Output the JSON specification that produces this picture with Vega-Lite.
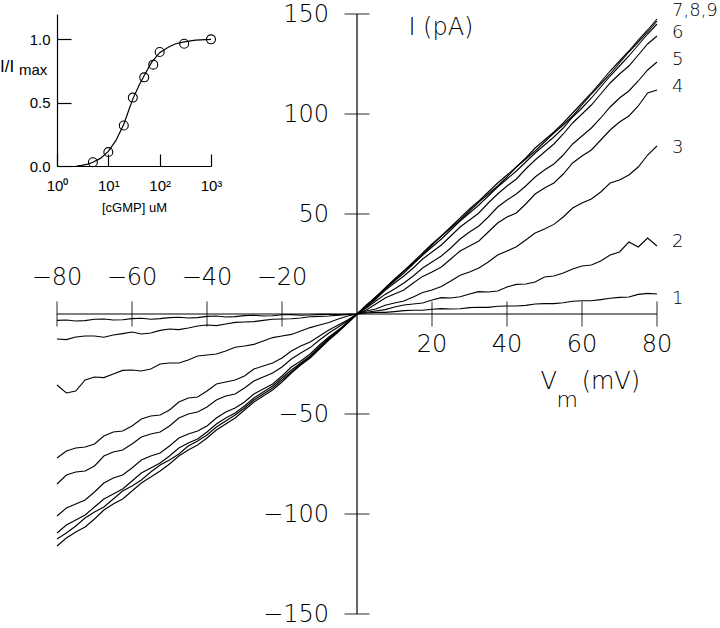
{
  "$schema": "https://vega.github.io/schema/vega-lite/v6.json",
  "width": 600,
  "height": 600,
  "autosize": "none",
  "padding": {"left": 57, "top": 14, "right": 63, "bottom": 14},
  "background": "white",
  "config": {"view": {"stroke": null}, "axis": {"grid": false}},
  "datasets": {
    "curves": [
      {"V": -80, "c1": -3.2, "c2": -12.5, "c3": -35.5, "c4": -72, "c5": -85, "c6": -101, "c7": -109.5, "c8": -112.5, "c9": -116},
      {"V": -77.5, "c1": -3.0, "c2": -12.8, "c3": -39.5, "c4": -68.5, "c5": -80.5, "c6": -97, "c7": -105.5, "c8": -109.5, "c9": -112},
      {"V": -75, "c1": -3.5, "c2": -11.5, "c3": -38.5, "c4": -67, "c5": -79, "c6": -95, "c7": -103, "c8": -106, "c9": -109},
      {"V": -72.5, "c1": -3.3, "c2": -11.0, "c3": -33.0, "c4": -66.5, "c5": -78.5, "c6": -93, "c7": -100.5, "c8": -102, "c9": -106.5},
      {"V": -70, "c1": -2.6, "c2": -11, "c3": -31.5, "c4": -65, "c5": -76, "c6": -89, "c7": -96.5, "c8": -99, "c9": -102.5},
      {"V": -67.5, "c1": -2.5, "c2": -11.6, "c3": -31.8, "c4": -61, "c5": -71, "c6": -84.5, "c7": -92.5, "c8": -96.5, "c9": -98},
      {"V": -65, "c1": -3, "c2": -10.5, "c3": -30, "c4": -59, "c5": -69, "c6": -82, "c7": -90, "c8": -92.5, "c9": -95},
      {"V": -62.5, "c1": -2.9, "c2": -9.8, "c3": -28.2, "c4": -58.5, "c5": -68, "c6": -80.5, "c7": -87.5, "c8": -88.5, "c9": -92.5},
      {"V": -60, "c1": -2.3, "c2": -9, "c3": -28, "c4": -56, "c5": -65, "c6": -77, "c7": -83.5, "c8": -86, "c9": -88.5},
      {"V": -57.5, "c1": -2.1, "c2": -10.0, "c3": -28.5, "c4": -52.5, "c5": -61.5, "c6": -73, "c7": -79.5, "c8": -83, "c9": -84.5},
      {"V": -55, "c1": -2.6, "c2": -9.5, "c3": -27.5, "c4": -51, "c5": -60, "c6": -71, "c7": -77, "c8": -79, "c9": -81.5},
      {"V": -52.5, "c1": -2.3, "c2": -8.2, "c3": -25.0, "c4": -50.5, "c5": -59, "c6": -69.5, "c7": -74.5, "c8": -75.5, "c9": -78.5},
      {"V": -50, "c1": -1.8, "c2": -7.5, "c3": -24.5, "c4": -48, "c5": -56, "c6": -66, "c7": -71, "c8": -73, "c9": -75},
      {"V": -47.5, "c1": -1.6, "c2": -7.8, "c3": -24.5, "c4": -44, "c5": -52, "c6": -62, "c7": -67, "c8": -70, "c9": -71},
      {"V": -45, "c1": -2, "c2": -7, "c3": -23, "c4": -42, "c5": -50, "c6": -60, "c7": -64.5, "c8": -66, "c9": -68},
      {"V": -42.5, "c1": -1.8, "c2": -6.0, "c3": -21.0, "c4": -41.5, "c5": -49, "c6": -58.5, "c7": -62.5, "c8": -63.5, "c9": -65.5},
      {"V": -40, "c1": -1.2, "c2": -5.5, "c3": -20.5, "c4": -38.5, "c5": -46.5, "c6": -56, "c7": -59, "c8": -60.5, "c9": -62},
      {"V": -37.5, "c1": -1.0, "c2": -5.8, "c3": -20.0, "c4": -35, "c5": -43, "c6": -52, "c7": -55, "c8": -56.5, "c9": -58},
      {"V": -35, "c1": -1.5, "c2": -5, "c3": -18.5, "c4": -34, "c5": -41, "c6": -49, "c7": -52, "c8": -53.5, "c9": -55},
      {"V": -32.5, "c1": -1.3, "c2": -4.2, "c3": -16.6, "c4": -33, "c5": -40, "c6": -47, "c7": -49.5, "c8": -50.5, "c9": -52},
      {"V": -30, "c1": -0.8, "c2": -4, "c3": -16, "c4": -31, "c5": -37, "c6": -44, "c7": -46, "c8": -47, "c9": -48},
      {"V": -27.5, "c1": -0.6, "c2": -3.8, "c3": -15.2, "c4": -27.5, "c5": -33.5, "c6": -40, "c7": -42, "c8": -43, "c9": -44},
      {"V": -25, "c1": -1, "c2": -3.2, "c3": -13.5, "c4": -26, "c5": -31.5, "c6": -37.5, "c7": -39, "c8": -40, "c9": -41},
      {"V": -22.5, "c1": -0.9, "c2": -2.6, "c3": -11.8, "c4": -24.5, "c5": -29.5, "c6": -35, "c7": -36, "c8": -37, "c9": -38},
      {"V": -20, "c1": -0.4, "c2": -2.5, "c3": -11, "c4": -22, "c5": -26.5, "c6": -31, "c7": -32, "c8": -33, "c9": -34},
      {"V": -17.5, "c1": -0.3, "c2": -2.4, "c3": -10.2, "c4": -18.5, "c5": -22.5, "c6": -26.5, "c7": -28, "c8": -29, "c9": -29.5},
      {"V": -15, "c1": -0.6, "c2": -2, "c3": -8.5, "c4": -16, "c5": -19.5, "c6": -23.5, "c7": -24.5, "c8": -25, "c9": -25.5},
      {"V": -12.5, "c1": -0.5, "c2": -1.4, "c3": -6.8, "c4": -14, "c5": -16.8, "c6": -20, "c7": -21, "c8": -21.5, "c9": -22},
      {"V": -10, "c1": -0.2, "c2": -1.2, "c3": -5.5, "c4": -11, "c5": -13, "c6": -15.5, "c7": -16.5, "c8": -17, "c9": -17.5},
      {"V": -7.5, "c1": -0.1, "c2": -1.0, "c3": -4.3, "c4": -8, "c5": -9.5, "c6": -11.5, "c7": -12, "c8": -12.5, "c9": -13},
      {"V": -5, "c1": -0.3, "c2": -0.6, "c3": -2.5, "c4": -5.5, "c5": -6.5, "c6": -8, "c7": -8.5, "c8": -8.5, "c9": -9},
      {"V": -2.5, "c1": -0.2, "c2": -0.2, "c3": -1.0, "c4": -3, "c5": -3.5, "c6": -4.5, "c7": -4.5, "c8": -4, "c9": -4.5},
      {"V": 0, "c1": 0, "c2": 0, "c3": 0, "c4": 0, "c5": 0, "c6": 0, "c7": 0, "c8": 0, "c9": 0},
      {"V": 2.5, "c1": 0.5, "c2": 0.9, "c3": 1.5, "c4": 2, "c5": 3, "c6": 3.5, "c7": 4, "c8": 4.5, "c9": 4},
      {"V": 5, "c1": 0.8, "c2": 1.5, "c3": 2.5, "c4": 5, "c5": 6.5, "c6": 7.5, "c7": 8, "c8": 8.5, "c9": 8.5},
      {"V": 7.5, "c1": 0.8, "c2": 2.2, "c3": 4.4, "c4": 8, "c5": 9.8, "c6": 11.8, "c7": 12.5, "c8": 12.5, "c9": 13},
      {"V": 10, "c1": 1.2, "c2": 3.5, "c3": 5.5, "c4": 10, "c5": 12.5, "c6": 15.5, "c7": 16.5, "c8": 17, "c9": 17.5},
      {"V": 12.5, "c1": 1.7, "c2": 4.5, "c3": 6.5, "c4": 12, "c5": 15.5, "c6": 19, "c7": 20.5, "c8": 21.5, "c9": 21.5},
      {"V": 15, "c1": 1.9, "c2": 5, "c3": 8.5, "c4": 15.5, "c5": 19, "c6": 23, "c7": 25, "c8": 25.5, "c9": 26},
      {"V": 17.5, "c1": 1.9, "c2": 5.5, "c3": 10.8, "c4": 18.8, "c5": 23, "c6": 27.5, "c7": 29.5, "c8": 29.5, "c9": 30.5},
      {"V": 20, "c1": 2.4, "c2": 7, "c3": 12, "c4": 21, "c5": 26, "c6": 31, "c7": 33.5, "c8": 34.5, "c9": 35},
      {"V": 22.5, "c1": 2.7, "c2": 8.2, "c3": 13.8, "c4": 23.5, "c5": 29, "c6": 34.5, "c7": 37.5, "c8": 39, "c9": 39},
      {"V": 25, "c1": 2.5, "c2": 8, "c3": 16.5, "c4": 27.5, "c5": 33, "c6": 39, "c7": 42, "c8": 43, "c9": 43.5},
      {"V": 27.5, "c1": 2.6, "c2": 8.6, "c3": 19.4, "c4": 31.5, "c5": 37.5, "c6": 43.5, "c7": 46.5, "c8": 47, "c9": 48},
      {"V": 30, "c1": 3.2, "c2": 10, "c3": 21, "c4": 34, "c5": 41, "c6": 47, "c7": 50.5, "c8": 51.5, "c9": 52.5},
      {"V": 32.5, "c1": 3.4, "c2": 11.2, "c3": 23, "c4": 36.5, "c5": 44, "c6": 50.5, "c7": 54.5, "c8": 56, "c9": 56.5},
      {"V": 35, "c1": 3.3, "c2": 11, "c3": 26, "c4": 41, "c5": 48.5, "c6": 55.5, "c7": 59, "c8": 60, "c9": 61},
      {"V": 37.5, "c1": 3.9, "c2": 11.5, "c3": 29.5, "c4": 45.5, "c5": 53.5, "c6": 60, "c7": 63.5, "c8": 64, "c9": 65.5},
      {"V": 40, "c1": 4, "c2": 13.5, "c3": 31.5, "c4": 48.5, "c5": 57, "c6": 64, "c7": 67.5, "c8": 68.5, "c9": 69.5},
      {"V": 42.5, "c1": 4.0, "c2": 14.8, "c3": 33.6, "c4": 50.5, "c5": 60, "c6": 67.5, "c7": 71.5, "c8": 73.5, "c9": 73.5},
      {"V": 45, "c1": 4.3, "c2": 15, "c3": 37, "c4": 55, "c5": 64, "c6": 72.5, "c7": 76, "c8": 77.5, "c9": 78},
      {"V": 47.5, "c1": 5.0, "c2": 16, "c3": 40.5, "c4": 60, "c5": 68.5, "c6": 77, "c7": 80.5, "c8": 81.5, "c9": 83},
      {"V": 50, "c1": 5.2, "c2": 18.5, "c3": 42.5, "c4": 63, "c5": 72, "c6": 81, "c7": 84.5, "c8": 86, "c9": 87},
      {"V": 52.5, "c1": 5.2, "c2": 19, "c3": 44.8, "c4": 65.5, "c5": 75, "c6": 85, "c7": 88.5, "c8": 90.5, "c9": 91},
      {"V": 55, "c1": 5.6, "c2": 20.5, "c3": 48.5, "c4": 70, "c5": 79.5, "c6": 90, "c7": 93, "c8": 94.5, "c9": 95.5},
      {"V": 57.5, "c1": 6.4, "c2": 22.5, "c3": 53, "c4": 75.5, "c5": 85, "c6": 95.5, "c7": 98.5, "c8": 99, "c9": 100.5},
      {"V": 60, "c1": 6.6, "c2": 24, "c3": 55.5, "c4": 79, "c5": 89, "c6": 100, "c7": 103, "c8": 104.5, "c9": 105.5},
      {"V": 62.5, "c1": 6.6, "c2": 24.5, "c3": 57.5, "c4": 82, "c5": 93, "c6": 104.5, "c7": 108, "c8": 110, "c9": 110.5},
      {"V": 65, "c1": 7.2, "c2": 26.5, "c3": 61, "c4": 87, "c5": 98, "c6": 110, "c7": 113.5, "c8": 115, "c9": 116},
      {"V": 67.5, "c1": 7.9, "c2": 29.5, "c3": 65.5, "c4": 92, "c5": 103.5, "c6": 115.5, "c7": 119, "c8": 120, "c9": 121.5},
      {"V": 70, "c1": 8.3, "c2": 31, "c3": 67, "c4": 96, "c5": 108, "c6": 120, "c7": 124, "c8": 125.5, "c9": 126.5},
      {"V": 72.5, "c1": 8.5, "c2": 36, "c3": 69.5, "c4": 99, "c5": 111.5, "c6": 124, "c7": 129, "c8": 131, "c9": 131.5},
      {"V": 75, "c1": 9.8, "c2": 33.5, "c3": 73.5, "c4": 104, "c5": 116.5, "c6": 129.5, "c7": 134.5, "c8": 136, "c9": 137},
      {"V": 77.5, "c1": 10.3, "c2": 38, "c3": 79.5, "c4": 110.5, "c5": 122, "c6": 135, "c7": 140, "c8": 141, "c9": 142},
      {"V": 80, "c1": 10, "c2": 34, "c3": 84, "c4": 112, "c5": 126, "c6": 139, "c7": 145, "c8": 146.5, "c9": 147.5}
    ],
    "curveLabels": [
      {"label": "1", "V": 80, "I": 7.5},
      {"label": "2", "V": 80, "I": 36},
      {"label": "3", "V": 80, "I": 83},
      {"label": "4", "V": 80, "I": 113.5},
      {"label": "5", "V": 80, "I": 127},
      {"label": "6", "V": 80, "I": 140.5},
      {"label": "7,8,9", "V": 80, "I": 151.5}
    ],
    "xneg": [
      {"t": -80, "s": "−80"}, {"t": -60, "s": "−60"}, {"t": -40, "s": "−40"}, {"t": -20, "s": "−20"}
    ],
    "xpos": [
      {"t": 20, "s": "20"}, {"t": 40, "s": "40"}, {"t": 60, "s": "60"}, {"t": 80, "s": "80"}
    ],
    "yticks": [
      {"t": 150, "s": "150"}, {"t": 100, "s": "100"}, {"t": 50, "s": "50"},
      {"t": -50, "s": "−50"}, {"t": -100, "s": "−100"}, {"t": -150, "s": "−150"}
    ],
    "insetCurve": [
      {"c": 2.4, "r": 0}, {"c": 3, "r": 0.005}, {"c": 4, "r": 0.015}, {"c": 5, "r": 0.03},
      {"c": 7, "r": 0.06}, {"c": 10, "r": 0.115}, {"c": 14, "r": 0.2}, {"c": 20, "r": 0.33},
      {"c": 25, "r": 0.44}, {"c": 30, "r": 0.53}, {"c": 40, "r": 0.64}, {"c": 50, "r": 0.715},
      {"c": 70, "r": 0.82}, {"c": 100, "r": 0.895}, {"c": 150, "r": 0.94}, {"c": 200, "r": 0.963},
      {"c": 300, "r": 0.98}, {"c": 500, "r": 0.993}, {"c": 1000, "r": 1.0}
    ],
    "insetPts": [
      {"c": 5, "r": 0.03}, {"c": 10, "r": 0.11}, {"c": 20, "r": 0.32}, {"c": 30, "r": 0.54},
      {"c": 50, "r": 0.7}, {"c": 75, "r": 0.8}, {"c": 100, "r": 0.9}, {"c": 300, "r": 0.965},
      {"c": 1000, "r": 1.0}
    ]
  },
  "layer": [
    {
      "layer": [
        {
          "data": {"values": [{}]},
          "mark": {"type": "rule", "color": "black", "strokeWidth": 1.2},
          "encoding": {
            "x": {"datum": -80, "type": "quantitative", "scale": {"domain": [-80, 80], "nice": false, "zero": false}, "axis": null},
            "x2": {"datum": 80},
            "y": {"datum": 0, "type": "quantitative", "scale": {"domain": [-150, 150], "nice": false, "zero": false}, "axis": null}
          }
        },
        {
          "data": {"values": [{}]},
          "mark": {"type": "rule", "color": "black", "strokeWidth": 1.2},
          "encoding": {
            "x": {"datum": 0, "type": "quantitative", "scale": {"domain": [-80, 80], "nice": false, "zero": false}, "axis": null},
            "y": {"datum": -150, "type": "quantitative", "scale": {"domain": [-150, 150], "nice": false, "zero": false}, "axis": null},
            "y2": {"datum": 150}
          }
        },
        {
          "data": {"name": "xneg"},
          "mark": {"type": "tick", "orient": "vertical", "size": 25, "thickness": 1.2, "color": "black"},
          "encoding": {
            "x": {"field": "t", "type": "quantitative", "scale": {"domain": [-80, 80], "nice": false, "zero": false}, "axis": null},
            "y": {"datum": 0, "type": "quantitative", "scale": {"domain": [-150, 150], "nice": false, "zero": false}, "axis": null}
          }
        },
        {
          "data": {"name": "xpos"},
          "mark": {"type": "tick", "orient": "vertical", "size": 25, "thickness": 1.2, "color": "black"},
          "encoding": {
            "x": {"field": "t", "type": "quantitative", "scale": {"domain": [-80, 80], "nice": false, "zero": false}, "axis": null},
            "y": {"datum": 0, "type": "quantitative", "scale": {"domain": [-150, 150], "nice": false, "zero": false}, "axis": null}
          }
        },
        {
          "data": {"name": "yticks"},
          "mark": {"type": "tick", "orient": "horizontal", "size": 25, "thickness": 1.2, "color": "black"},
          "encoding": {
            "x": {"datum": 0, "type": "quantitative", "scale": {"domain": [-80, 80], "nice": false, "zero": false}, "axis": null},
            "y": {"field": "t", "type": "quantitative", "scale": {"domain": [-150, 150], "nice": false, "zero": false}, "axis": null}
          }
        },
        {
          "data": {"name": "xneg"},
          "mark": {"type": "text", "font": "DejaVu Sans", "fontSize": 24, "fontWeight": 200, "align": "center", "baseline": "middle", "dy": -36, "color": "black"},
          "encoding": {
            "x": {"field": "t", "type": "quantitative", "scale": {"domain": [-80, 80], "nice": false, "zero": false}, "axis": null},
            "y": {"datum": 0, "type": "quantitative", "scale": {"domain": [-150, 150], "nice": false, "zero": false}, "axis": null},
            "text": {"field": "s"}
          }
        },
        {
          "data": {"name": "xpos"},
          "mark": {"type": "text", "font": "DejaVu Sans", "fontSize": 24, "fontWeight": 200, "align": "center", "baseline": "middle", "dy": 31, "color": "black"},
          "encoding": {
            "x": {"field": "t", "type": "quantitative", "scale": {"domain": [-80, 80], "nice": false, "zero": false}, "axis": null},
            "y": {"datum": 0, "type": "quantitative", "scale": {"domain": [-150, 150], "nice": false, "zero": false}, "axis": null},
            "text": {"field": "s"}
          }
        },
        {
          "data": {"name": "yticks"},
          "mark": {"type": "text", "font": "DejaVu Sans", "fontSize": 24, "fontWeight": 200, "align": "right", "baseline": "middle", "dx": -28, "dy": 1, "color": "black"},
          "encoding": {
            "x": {"datum": 0, "type": "quantitative", "scale": {"domain": [-80, 80], "nice": false, "zero": false}, "axis": null},
            "y": {"field": "t", "type": "quantitative", "scale": {"domain": [-150, 150], "nice": false, "zero": false}, "axis": null},
            "text": {"field": "s"}
          }
        },
        {
          "data": {"name": "curves"},
          "transform": [{"fold": ["c1", "c2", "c3", "c4", "c5", "c6", "c7", "c8", "c9"], "as": ["curve", "I"]}],
          "mark": {"type": "line", "color": "black", "strokeWidth": 1.1},
          "encoding": {
            "x": {"field": "V", "type": "quantitative", "scale": {"domain": [-80, 80], "nice": false, "zero": false}, "axis": null},
            "y": {"field": "I", "type": "quantitative", "scale": {"domain": [-150, 150], "nice": false, "zero": false}, "axis": null},
            "detail": {"field": "curve", "type": "nominal"},
            "order": {"field": "V", "type": "quantitative"}
          }
        },
        {
          "data": {"name": "curveLabels"},
          "mark": {"type": "text", "font": "DejaVu Sans", "fontSize": 18, "fontWeight": 200, "align": "left", "baseline": "middle", "dx": 15, "color": "black"},
          "encoding": {
            "x": {"field": "V", "type": "quantitative", "scale": {"domain": [-80, 80], "nice": false, "zero": false}, "axis": null},
            "y": {"field": "I", "type": "quantitative", "scale": {"domain": [-150, 150], "nice": false, "zero": false}, "axis": null},
            "text": {"field": "label"}
          }
        },
        {
          "data": {"values": [{}]},
          "mark": {"type": "text", "text": "I (pA)", "font": "DejaVu Sans", "fontSize": 24, "fontWeight": 200, "align": "left", "baseline": "middle", "color": "black"},
          "encoding": {
            "x": {"datum": 13.7, "type": "quantitative", "scale": {"domain": [-80, 80], "nice": false, "zero": false}, "axis": null},
            "y": {"datum": 143, "type": "quantitative", "scale": {"domain": [-150, 150], "nice": false, "zero": false}, "axis": null}
          }
        },
        {
          "data": {"values": [{}]},
          "mark": {"type": "text", "text": "V", "font": "DejaVu Sans", "fontSize": 24, "fontWeight": 200, "align": "left", "baseline": "middle", "color": "black"},
          "encoding": {
            "x": {"datum": 48.9, "type": "quantitative", "scale": {"domain": [-80, 80], "nice": false, "zero": false}, "axis": null},
            "y": {"datum": -34, "type": "quantitative", "scale": {"domain": [-150, 150], "nice": false, "zero": false}, "axis": null}
          }
        },
        {
          "data": {"values": [{}]},
          "mark": {"type": "text", "text": "m", "font": "DejaVu Sans", "fontSize": 22, "fontWeight": 200, "align": "left", "baseline": "middle", "color": "black"},
          "encoding": {
            "x": {"datum": 53.2, "type": "quantitative", "scale": {"domain": [-80, 80], "nice": false, "zero": false}, "axis": null},
            "y": {"datum": -43, "type": "quantitative", "scale": {"domain": [-150, 150], "nice": false, "zero": false}, "axis": null}
          }
        },
        {
          "data": {"values": [{}]},
          "mark": {"type": "text", "text": "(mV)", "font": "DejaVu Sans", "fontSize": 24, "fontWeight": 200, "align": "left", "baseline": "middle", "color": "black"},
          "encoding": {
            "x": {"datum": 59.9, "type": "quantitative", "scale": {"domain": [-80, 80], "nice": false, "zero": false}, "axis": null},
            "y": {"datum": -34, "type": "quantitative", "scale": {"domain": [-150, 150], "nice": false, "zero": false}, "axis": null}
          }
        }
      ]
    },
    {
      "layer": [
        {
          "data": {"name": "insetCurve"},
          "mark": {"type": "line", "color": "black", "strokeWidth": 1.2},
          "encoding": {
            "x": {
              "field": "c", "type": "quantitative",
              "scale": {"type": "log", "domain": [1, 1000], "range": [0, 154], "nice": false},
              "axis": {
                "orient": "bottom", "offset": -448, "values": [1, 10, 100, 1000],
                "labelExpr": "datum.value == 1 ? '10⁰' : datum.value == 10 ? '10¹' : datum.value == 100 ? '10²' : '10³'",
                "tickSize": -12, "labelPadding": 24, "labelFont": "Liberation Sans", "labelFontSize": 15,
                "title": "[cGMP] uM", "titleFont": "Liberation Sans", "titleFontSize": 13, "titleFontWeight": "normal",
                "titlePadding": 8, "domainColor": "black", "tickColor": "black", "labelColor": "black", "titleColor": "black",
                "labelFlush": false, "labelOverlap": false, "domainWidth": 1.2, "tickWidth": 1.2
              }
            },
            "y": {
              "field": "r", "type": "quantitative",
              "scale": {"domain": [0, 1.2], "range": [152, 0], "nice": false, "zero": false},
              "axis": {
                "orient": "left", "values": [0, 0.5, 1], "format": ".1f",
                "tickSize": -14, "labelPadding": 21, "labelFont": "Liberation Sans", "labelFontSize": 15,
                "title": null, "domainColor": "black", "tickColor": "black", "labelColor": "black",
                "labelFlush": false, "labelOverlap": false, "labelBaseline": "middle", "domainWidth": 1.2, "tickWidth": 1.2
              }
            }
          }
        },
        {
          "data": {"name": "insetPts"},
          "mark": {"type": "point", "shape": "circle", "filled": false, "size": 80, "color": "black", "strokeWidth": 1.1, "opacity": 1},
          "encoding": {
            "x": {"field": "c", "type": "quantitative"},
            "y": {"field": "r", "type": "quantitative"}
          }
        },
        {
          "data": {"values": [{}]},
          "mark": {"type": "text", "text": "I/I", "font": "Liberation Sans", "fontSize": 17, "align": "left", "baseline": "alphabetic", "dx": -57, "color": "black"},
          "encoding": {
            "x": {"datum": 1, "type": "quantitative"},
            "y": {"datum": 0.74, "type": "quantitative"}
          }
        },
        {
          "data": {"values": [{}]},
          "mark": {"type": "text", "text": "max", "font": "Liberation Sans", "fontSize": 15, "align": "left", "baseline": "alphabetic", "dx": -38, "color": "black"},
          "encoding": {
            "x": {"datum": 1, "type": "quantitative"},
            "y": {"datum": 0.715, "type": "quantitative"}
          }
        }
      ]
    }
  ],
  "resolve": {"scale": {"x": "independent", "y": "independent"}}
}
